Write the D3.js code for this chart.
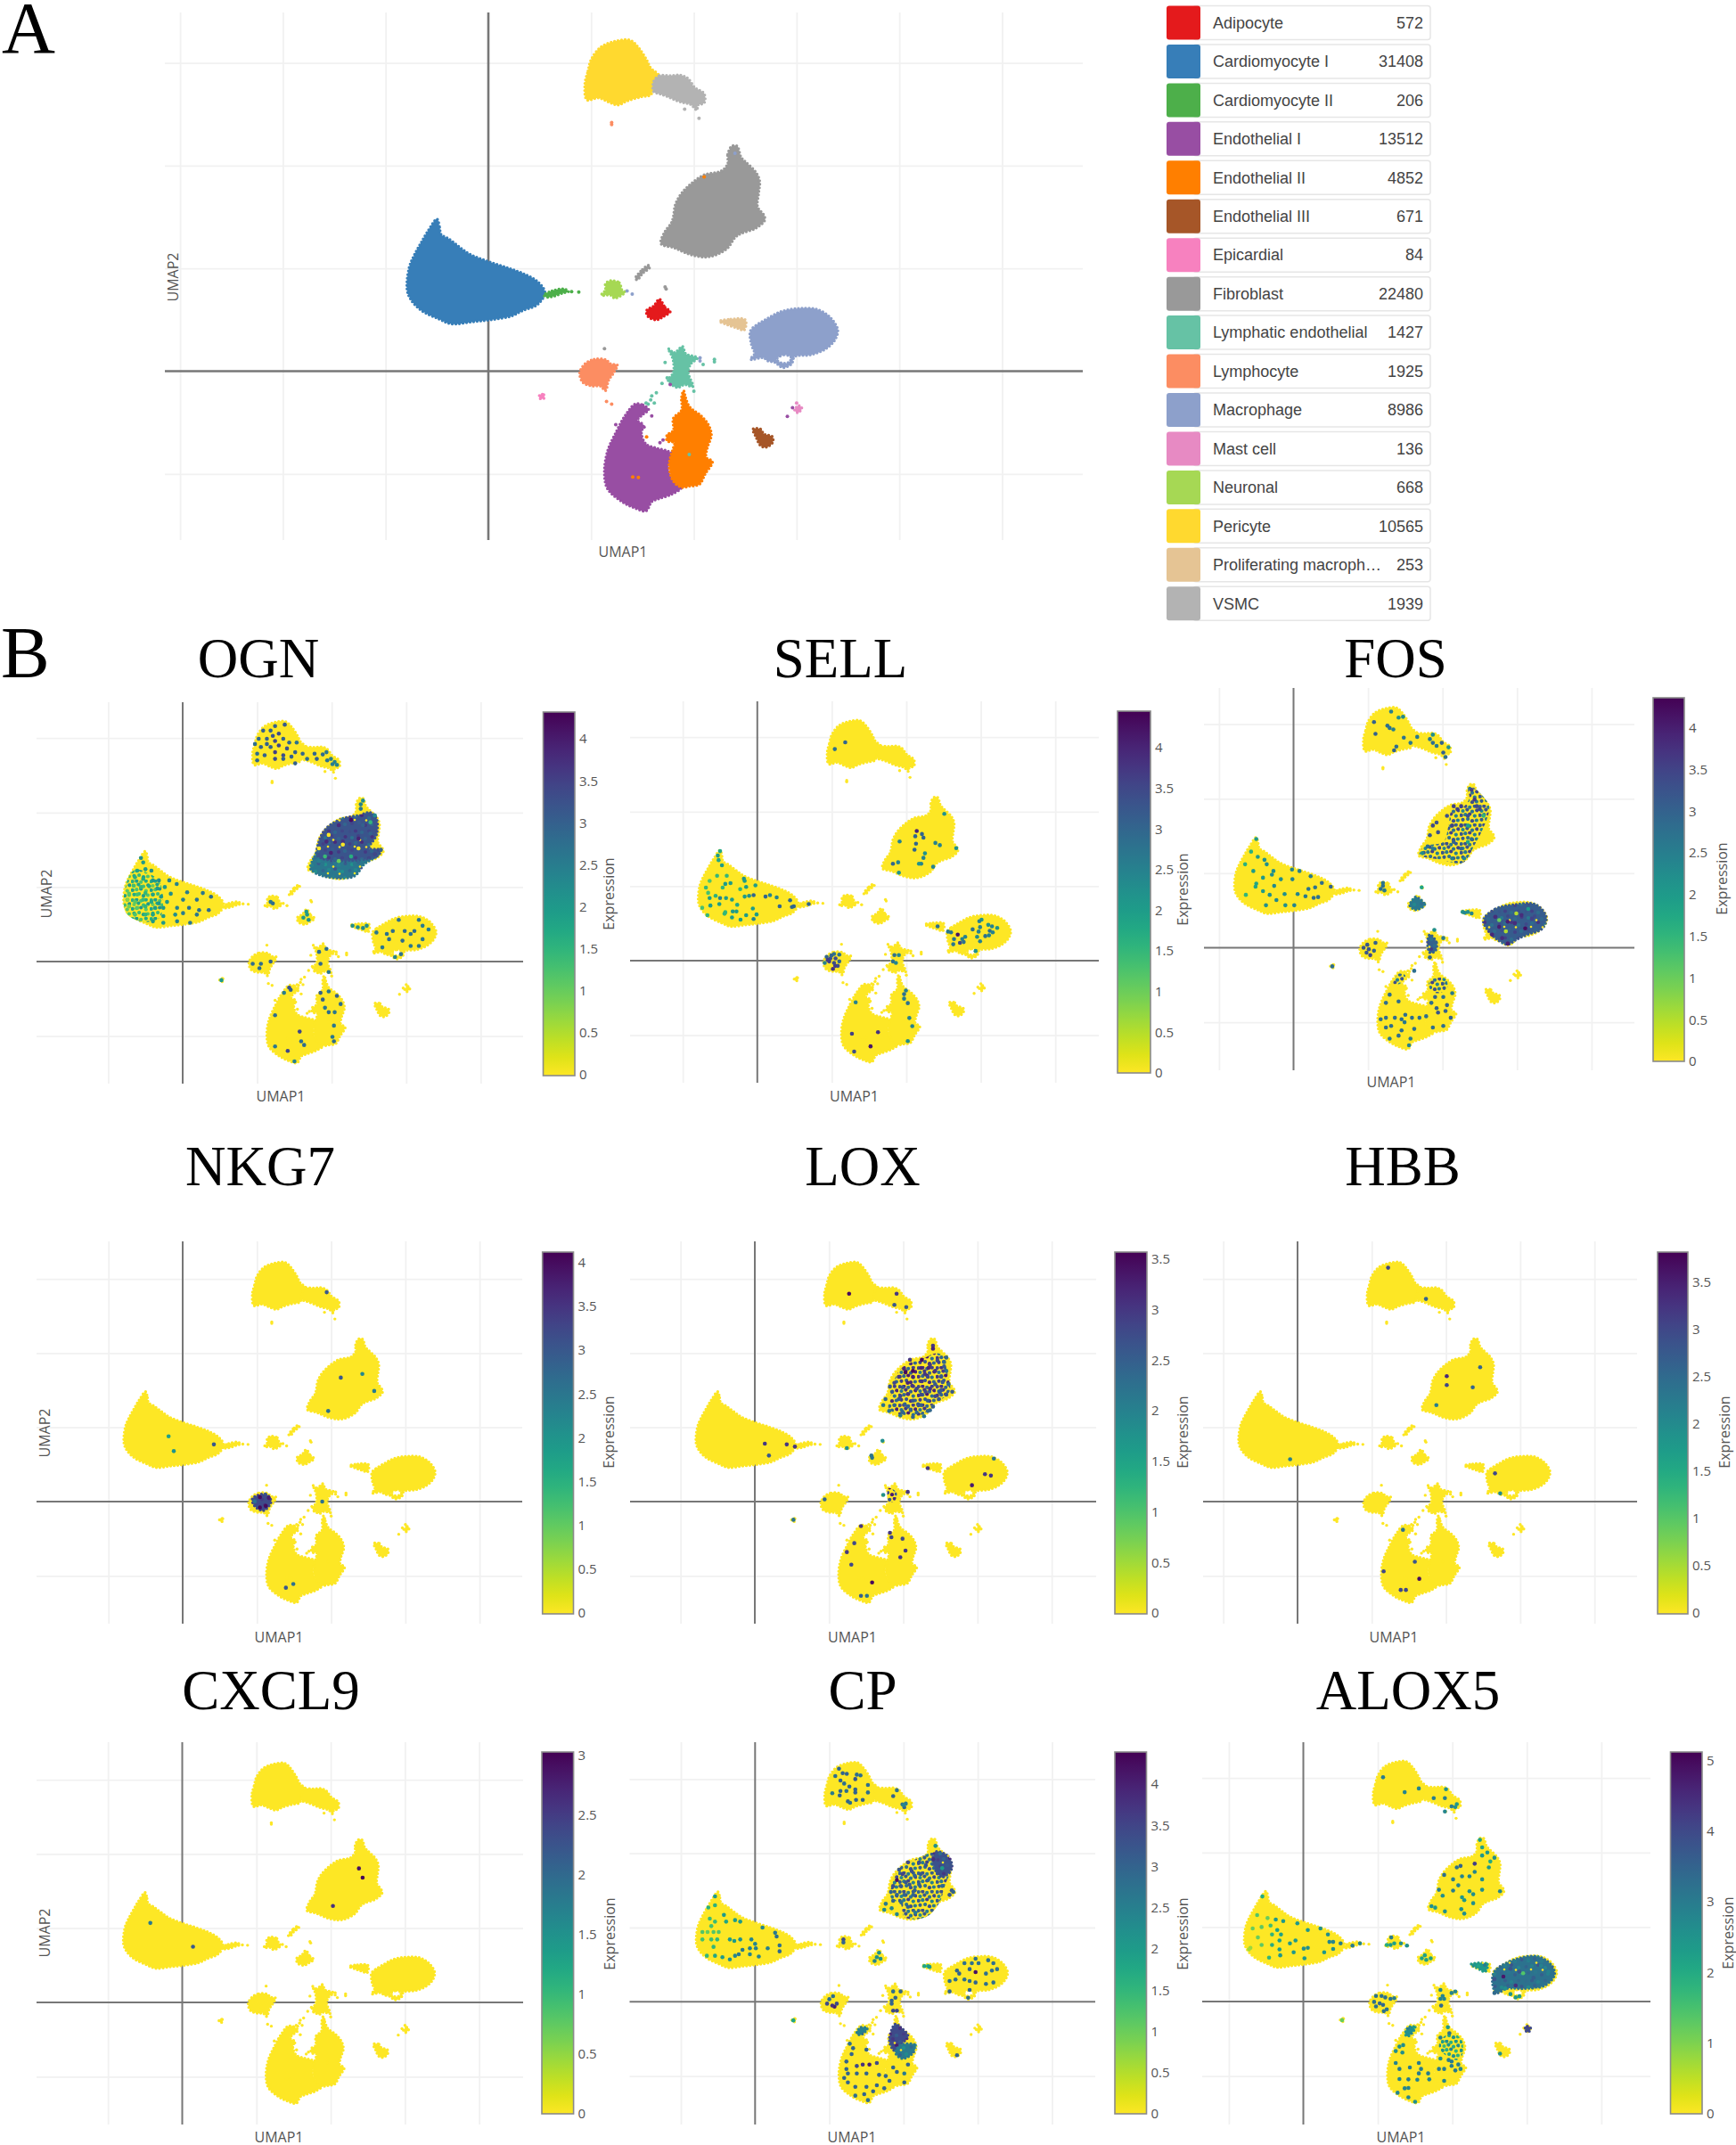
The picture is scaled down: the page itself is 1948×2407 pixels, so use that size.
<!DOCTYPE html>
<html>
<head>
<meta charset="utf-8">
<script src="https://cdn.jsdelivr.net/npm/d3@7"></script>
<style>
  body { margin: 0; background: #fff; }
  svg { display: block; }
  .serif { font-family: "Liberation Serif", serif; fill: #000; }
  .lab { font-family: "Open Sans", sans-serif; fill: #555; font-size: 16px; }
  .leg { font-family: "Liberation Sans", sans-serif; fill: #444; font-size: 18px; }
</style>
</head>
<body>
<div id="chart"></div>
<script>
// legend
const clusterNames = ["Adipocyte", "Cardiomyocyte I", "Cardiomyocyte II", "Endothelial I", "Endothelial II", "Endothelial III", "Epicardial", "Fibroblast", "Lymphatic endothelial", "Lymphocyte", "Macrophage", "Mast cell", "Neuronal", "Pericyte", "Proliferating macroph\u2026", "VSMC"];
const clusterCounts = [572, 31408, 206, 13512, 4852, 671, 84, 22480, 1427, 1925, 8986, 136, 668, 10565, 253, 1939];
const clusterColors = ["#e41a1c", "#377eb8", "#4daf4a", "#984ea3", "#ff7f00", "#a65628", "#f781bf", "#999999", "#66c2a5", "#fc8d62", "#8da0cb", "#e78ac3", "#a6d854", "#ffd92f", "#e5c494", "#b3b3b3"];

// cluster outlines, UMAP units
const adipocyteRing = [[16.65,7],[17.2,6.2],[17.7,5.8],[17,5.3],[16.4,5],[15.55,5.3],[15.4,5.9],[16.1,6.35]];
const cardioOneRing = [[-5,14.8],[-4.75,14],[-4.6,13.3],[-3.9,12.9],[-2.9,12.15],[-1.85,11.4],[-0.1,10.7],[1.9,10.05],[3.6,9.4],[4.8,8.7],[5.5,7.65],[4.8,6.5],[3.35,5.9],[2.2,5.35],[0.2,5],[-1.6,4.8],[-3.6,4.6],[-4.75,5.05],[-6.5,5.9],[-7.5,6.9],[-7.9,7.9],[-7.7,10.1],[-7.2,11.3],[-6.6,12.4],[-5.9,13.6]];
const cardioTwoRing = [[5.4,7.4],[6.2,7.8],[7.4,8],[7.8,7.75],[7.25,7.6],[6.4,7.3],[5.7,7.2]];
const endoOneRing = [[14.3,-3.2],[15.05,-3.3],[15.6,-3.75],[15.05,-4.2],[14.5,-4.8],[15.05,-5.2],[14.9,-6.1],[15.35,-7.1],[16.4,-7.5],[17.5,-7.8],[18,-8.1],[17.5,-9.25],[18,-10.6],[18.8,-11.3],[17.8,-12],[16.65,-12.4],[15.9,-12.7],[15.35,-13.6],[14.2,-13.3],[13,-12.7],[11.6,-11.45],[11.3,-9.85],[11.6,-7.8],[12.5,-5.8],[13.3,-4.35]];
const endoTwoRing = [[19,-1.9],[19.2,-2.6],[19.6,-3.5],[20.7,-4.35],[21.4,-5.2],[21.7,-6.2],[21.3,-7.5],[21.2,-8.4],[21.8,-8.8],[21.1,-10],[20.55,-11],[19.55,-11.2],[18.8,-11.3],[18,-10.7],[17.6,-9.25],[17.8,-8.1],[18,-7.5],[18.1,-6.95],[17.4,-6.8],[17.4,-6.2],[18,-5.8],[18,-4.6],[18.8,-3.8],[18.8,-2.6]];
const endoThreeRing = [[25.75,-5.65],[26.5,-5.65],[26.8,-6.1],[27.65,-6.4],[27.65,-6.95],[27.05,-7.4],[26.5,-7.25],[26.05,-6.4]];
const epicardialRing = [[5,-2.3],[5.4,-2.3],[5.4,-2.65],[5,-2.65]];
const fibroblastRing = [[23.3,20.2],[23.3,21.1],[23.7,21.9],[24.2,21.9],[24.6,20.8],[25,20.4],[26,19.4],[26.4,18.5],[26.3,17.3],[26.2,16],[26.8,15.2],[26.9,14.7],[26,13.9],[24.6,13.4],[24,13],[23.3,12],[22.1,11.3],[21,11.1],[19.5,11.4],[18.1,12],[16.8,12.4],[17.2,13.6],[17.8,14.4],[18,15],[18.2,16.2],[18.8,17.3],[19.8,18.3],[21,19.1],[22.7,19.5]];
const fibroStreakRing = [[14.3,9],[15,9.9],[15.6,10.3],[15.7,10.1],[15,9.5],[14.5,8.9]];
const lymphaticRing = [[17.5,2.2],[18.1,1.8],[18.9,2.4],[19.2,1.7],[20.35,1.3],[19.7,0.7],[19.45,-0.15],[19.9,-1.5],[19.1,-1.3],[18.4,-1.6],[17.5,-0.9],[18,-0.15],[18,1],[17.8,1.6]];
const lymphocyteRing = [[9.4,0.7],[10.3,1.15],[11.45,1.1],[11.9,0.7],[12.55,0.6],[12.2,-0.15],[11.7,-0.9],[11.4,-1.9],[10.9,-1.45],[10.15,-1.45],[9.2,-1.1],[8.9,-0.15]];
const macrophageRing = [[25.5,3.9],[26.05,4.45],[27.05,5.05],[28.5,5.8],[30.25,6.1],[32,6],[33.3,5.2],[34,4],[33.7,3],[32.8,2.15],[31.4,1.6],[29.8,1.4],[29.5,0.7],[28.65,0.35],[27.9,0.85],[27.2,1],[26.8,1.3],[25.5,1.15],[25.9,1.7],[25.6,2.6]];
const macrophageHole = [[28.05,1.15],[28.8,1.6],[29.5,1.3],[29.2,0.85],[28.5,0.8]];
const mastRing = [[29.8,-3.75],[30.25,-3.35],[30.5,-3.6],[30.1,-4.05]];
const neuronalRing = [[11.9,8.8],[12.75,8.6],[13,7.9],[13.3,7.7],[12.3,7.1],[11.9,7.4],[11,7.4],[11.4,7.9],[11.4,8.5]];
const pericyteRing = [[9.4,28],[9.7,29.2],[10,30.3],[10.9,31.5],[12.3,32.1],[13.8,32.2],[14.6,31.5],[15.4,30.3],[15.8,29.5],[16.6,28.75],[16.1,27.9],[15.8,26.9],[14.9,26.7],[13.5,26.3],[12.6,25.9],[11.7,26.2],[10.7,26.6],[9.6,26.4]];
const prolifRing = [[22.5,4.85],[23.6,5.05],[25,5],[24.9,4],[24.2,4.2],[23.3,4.5]];
const vsmcRing = [[16.1,28.2],[16.65,28.75],[17.66,28.75],[18.7,28.8],[19.4,28.5],[20.1,27.6],[21,27],[21,26.1],[20.4,25.9],[20.3,25.4],[19.7,25.95],[19.1,26.1],[18.4,26.3],[17.5,26.7],[16.65,27],[16.1,27.2]];

// [cluster index, outer ring, optional hole], in drawing order
const clusterShapes = [
  [1, cardioOneRing], [2, cardioTwoRing], [13, pericyteRing], [15, vsmcRing], [7, fibroblastRing], [7, fibroStreakRing],
  [12, neuronalRing], [0, adipocyteRing], [14, prolifRing], [10, macrophageRing, macrophageHole], [9, lymphocyteRing],
  [8, lymphaticRing], [3, endoOneRing], [4, endoTwoRing], [5, endoThreeRing], [6, epicardialRing], [11, mastRing]
];

// single cells away from the big clusters: [u, v, cluster index]
const strayCells = [[19.1,25.5,15],[20.5,24.6,15],[12,24.2,9],[12,24,9],[8.1,7.75,2],[8.8,7.7,2],[13.5,7.8,10],[14,7.5,10],[17.2,8.2,7],[17.3,8,7],[17.2,0.85,8],[16.9,-1.2,8],[17.4,-0.65,8],[20,-1.95,8],[20.9,0.65,8],[22,1.15,8],[22,0.9,8],[16.35,-2.1,8],[15.9,-2.4,8],[15.55,-3.2,8],[15.35,-3.1,8],[16.15,-3.1,8],[15.8,-2.8,8],[17.7,-1.3,3],[20.6,1.3,10],[20.6,1,10],[11.5,-2.95,9],[12,-3.2,9],[11.3,2.2,7],[12.4,-5.2,3],[15.9,-4.35,3],[15.15,-5.45,3],[16.7,-6.95,3],[17,-6.7,3],[15.4,-6.4,4],[14.05,-10.3,4],[14.6,-10.35,4],[19.55,-8.1,8],[29.6,-3.55,3],[29.1,-4.4,3],[30,-3.1,11],[21,18.9,4],[24,21.2,10]];

// expressing cells: [u, v, expression]
const ognCells = [[10.8,31,3],[12.4,31.6,3],[13.7,31.8,3.1],[12.9,30.6,3.3],[11.8,31,3],[10.2,29.9,2.9],[11.3,29.9,3],[12.4,29.6,3.4],[13.5,29.9,3],[14.3,29.4,2.9],[15.3,29.4,2.7],[10.5,28.8,3],[11.8,28.8,3],[12.9,29,3.4],[14,28.6,3.2],[15.1,28.1,3],[10,27.9,2.8],[11,27.7,3],[12.4,28.1,3.5],[13.5,27.7,3.3],[14.6,27.5,3],[10,27,2.9],[12.4,27.2,3.3],[13.5,27.2,3],[15.1,26.6,3],[16.1,27.9,2.9],[16.7,27.2,2.8],[11.3,29.2,3],[9.7,29.2,2.8],[12.1,30.3,3.2],[17.7,27.9,2.9],[18.8,27.8,2.8],[18,27.2,3],[19.3,28.1,2.6],[19.9,27.2,2.5],[20.4,26.8,2.4],[20.7,26.4,2.4],[20.1,26.5,2.5],[19.4,27,2.7],
[20.95,18.3,3.8],[22.6,19,4.2],[19.9,14.6,3.9],[21.5,16.1,3.7],[23.6,16.5,3.9],[25.2,17.2,3],[19.3,16.1,3.8],[22.3,15.2,3.3],[24.2,18.3,3],[23.9,20.5,2.6],[23.9,21.1,2.4],[24.2,21.6,2.2],[18.8,13.1,2.6],[20.95,12.2,2.4],[23.1,13.1,2.6],[18.3,13.5,2.5],[25.8,19.6,2.3],[25.8,14.4,3.4],[26.6,15,3],[19.9,11.7,2.6],[21.5,15.7,0],[19.6,17,0],[23.6,15.2,0],[20.95,13.5,1],[22.6,14.1,1.6],[25.2,18.7,1.5],[18.3,15.2,0],[19.1,14.1,1.4],
[-5.6,13.9,2.2],[-5.3,13.3,2],[-6.1,12.2,1.8],[-5,12.4,2],[-4.2,12.2,2.2],[-6.4,11.3,1.6],[-5.3,11.1,1.7],[-4,10.9,2],[-3.2,10.9,2.2],[-1.8,10.9,2.4],[-6.6,10.2,1.3],[-5.6,10,1.5],[-4.5,10.1,1.7],[-3.4,9.8,2],[-2.4,10,2],[-0.8,10.4,2.4],[-7.2,9.1,1.1],[-6.1,9,1.3],[-5,9.2,1.5],[-4,9,1.8],[-2.9,8.7,2],[-1.6,9.1,2.2],[0.6,9.3,2.5],[2.7,9.2,2.6],[3.8,8.7,2.8],[-7.4,8.3,0.8],[-6.4,8,1.1],[-5.3,8.3,1.4],[-4.2,8,1.7],[-3.2,7.8,2],[-2.1,8,2],[0.05,8.3,2.5],[1.9,8.3,2.7],[-7.2,7.4,0.9],[-6.1,7.2,1.1],[-5,7.4,1.5],[-3.7,7.2,1.9],[-2.6,7.2,2],[-0.75,7.2,2.4],[0.85,7.2,2.7],[2.2,6.9,2.7],[3.5,6.9,2.8],[-6.4,6.3,1.2],[-5,6.3,1.5],[-4,6.3,1.8],[-2.6,6.1,2],[-1,6.3,2.2],[0.05,6.5,2.5],[1.9,6.3,2.6],[-4,5.4,2],[-2.6,5.2,2],[-0.75,5.4,2.4],[1,5.2,2.6],
[11.8,8,2.6],[12.1,7.8,2.8],[16.7,6.3,2],[16.2,5.9,2],[16.9,5.6,2.1],[16.6,6.7,2],[22.8,4.8,2.2],[23.5,4.6,2.2],[24.2,4.5,2.3],[24.7,4.8,2.2],
[31.7,5.6,2.6],[32.2,4.8,2.5],[33,4.3,2.5],[31.1,4.1,2.8],[30.6,3.7,2.7],[29,5.6,2.7],[29.8,4.1,2.8],[27.4,3.7,2.7],[28.2,4.1,2.8],[26,3.9,2.6],[26.8,1.9,2.6],[29.5,2.8,2.8],[30.6,2.1,2.6],[31.7,2.1,2.6],[28.5,0.6,2.4],[29.3,1,2.7],[32.2,3,2.6],[27.7,3,2.8],
[9.4,-0.3,2.8],[10.5,-0.3,2.8],[11.8,0,3],[10.3,-0.9,2.8],[18.3,1.3,2.8],[19.3,1.7,2.8],[18.5,-0.3,2.9],[19.6,-1.4,2.6],[5.2,-2.5,2],
[14.5,-3.8,3],[14.3,-3.5,3.2],[13.6,-4.2,2.5],[12.4,-7.2,2.8],[15.7,-9.4,3.4],[15.9,-10.7,2.8],[16.3,-11.2,2.8],[14.1,-12,3.4],[12.4,-11.4,2.6],[15,-13.4,2.4],[18.5,-4.2,3],[18.8,-5.1,3],[19.6,-4,2.6],[20.7,-4.6,3],[21.2,-5.7,2.8],[20.4,-6.8,2.6],[19.1,-6.2,2.6],[19.6,-6.8,2.8],[20.3,-8.6,2.6],[20.1,-10.1,2.6],[20.3,-10.7,2.8]];
// patches are regions too dense to read cell by cell: [typical expression, ring, open weave]
const ognPatches = [
  [1.5, [[-7.6,6.5],[-7.7,10],[-6.5,12.3],[-4.5,11.8],[-3,10.5],[-3,6],[-5,5.3]], true],
  [2.6, [[17.2,12.4],[17.7,14.1],[18.3,14.9],[26.2,14.4],[26,14.1],[24.4,13.1],[23.1,11.5],[21.5,11.2],[18.8,11.5]]],
  [3.2, [[19.3,17.9],[21.5,19.2],[23.6,19.6],[25.2,20],[26,19.2],[26,17],[25,15.2],[26.6,15],[26,14.1],[18.2,14.1],[18.3,16.1]]]
];

const sellCells = [[11.8,29.3,3],[10.4,28.4,2.8],[25.1,19.7,2.2],[21.4,17.4,4],[22.1,17,3],[22.3,16.5,3],[21.2,16.7,3],[21.3,15.7,3],[19.1,16,2.5],[23.9,15.8,2.5],[24.5,15.5,2.5],[26.7,15.1,2.2],[21.1,14.9,3],[22.5,14.4,2.2],[22.3,13.8,2.5],[22,13,2.5],[21.7,13,2.2],[18.2,13,3],[18.9,13.2,2.5],[23.6,12.6,2.5],[19,11.8,2.2],
[-5,14.7,1.8],[-5.3,14.1,2],[-5.2,13.5,1.8],[-4.75,12.8,2],[-5.4,11.4,1.5],[-4.1,11.4,1.5],[-1.8,11,2.2],[-1.7,10.7,2],[-6.4,10.7,1.2],[-3.6,10.4,2],[-4.3,10.3,2],[-4.65,9.8,1.5],[-0.25,10.1,2],[-1.5,9.9,2],[-6.9,9.8,1.5],[-2.3,9.6,1.5],[-6.6,9.1,1.3],[-5.6,8.7,1.6],[-6.4,8.4,2],[-5,8.4,2.5],[-4.2,8.4,2],[-3.4,8.2,2],[-1.7,8.6,2],[-1.1,8.7,2.2],[-0.5,8.8,3],[1.1,8.6,3],[1.7,8.8,2.5],[2.6,8.5,2.5],[4.4,8.1,3],[-6.3,7.4,2],[-5.1,7.6,2],[-2.7,7.5,1.8],[-0.6,7,2],[3,7.3,3],[4.9,7.3,3],[4.65,7.2,3],[6.9,7.6,3],[-7.4,7.1,1.3],[-4.4,6.3,1.5],[-4.3,6.5,1.5],[-3.3,6.6,2],[-2.8,6.6,2],[-1.5,6.1,2],[-0.1,6.2,2],[-0.5,5.6,2.5],[-2.25,5.5,2],[-3.4,5.8,2],[-6.7,6.1,1.5],
[24.2,4.6,2.8],[31,4.8,2.2],[30.1,5.5,2.2],[29.8,5.3,2.5],[32.2,4.4,2.2],[31.5,4.6,2.5],[29.9,4.5,2.5],[29.7,3.9,2.5],[28.9,4.2,2.8],[31.2,4,2.8],[31.6,3.8,2.5],[30.6,3.3,2.8],[31.1,3.4,2.5],[29.5,3.2,2.3],[29.9,2.6,2.5],[29.3,1.3,2.2],[25.6,3.9,2.7],[26,3.8,2.7],[26.4,2.9,2.7],[26.9,3.5,4.2],[27.9,3.2,2.5],[27.5,2.9,2.5],[27.2,2.4,3.5],[27.7,2.5,2.8],[26.3,2.2,2.7],
[9.3,0.5,3],[9.8,0.3,3.4],[10.3,0.9,2.8],[11,0.8,2.8],[9.65,-0.1,3.6],[10.3,-0.3,3.4],[11,-0.1,3],[10.8,-0.7,3.4],[10.15,-1.1,3.8],[9.05,-0.3,2.5],[10.5,0.3,3.4],[9.95,0.7,3],[9.45,0.1,3.6],[10.45,-0.7,3.6],
[18.4,0.75,2.8],[19,0.75,2.4],[18.2,-0.1,2.8],[18.6,-0.3,2.4],[19.95,-4,2.6],[19.7,-4.5,2.8],[19.7,-5.1,2.6],[20.2,-5.7,2.8],[20.4,-7.7,2.5],[20.8,-8.8,2.5],[20.2,-10.8,2.3],[13.2,-5.6,2.5],[12.7,-9.8,3.6],[16.2,-9.6,3.8],[15.2,-11.5,4.2],[13,-12.2,3.4]];
const sellPatches = [];

const fosCells = [[13.1,31.7,2.5],[14.1,30.9,2.2],[14.7,31,2.3],[10.8,30.3,3],[12.6,29.8,2.8],[13.4,29.3,2.5],[12.9,29.5,2.7],[11,28.7,3],[14.8,28.2,2.7],[15.7,27.5,2.6],[13.5,26.5,3],[13.8,27,2.8],[16.6,28.3,2.6],[18.3,28,2.6],[18.7,28.6,2.2],[18.7,27.5,2.8],[19.9,27.5,3],[19.2,27.1,2.6],[20.1,26.2,3],[20.8,26.9,2.2],[20.4,25.6,2.8],
[21.5,19,3.5],[22.5,19,3.5],[22,18.6,3.5],[20.6,17.7,3.3],[19.2,16.8,3.3],[18.7,16.4,3.4],[18.3,15.1,3.2],[19.4,15.5,3.3],[18,13.6,2.8],[17.3,12.7,2.3],[18.7,13.3,2.6],[24.6,19,3.4],[25,18.6,3.4],[23.9,21.2,3.5],[24.3,19.9,3.6],[23.4,17.7,3.3],[22.5,16.4,3.4],[21.3,16.4,3.5],[21.5,14.2,3],[22.5,13.3,2.9],[21.3,12,2.5],[22.9,12,2.4],[23.9,14.6,2.8],[23.4,16.4,1.8],[25.5,17.7,1.5],[23.4,14.2,1.8],
[-5,14.6,2],[-5.7,12.9,1.6],[-6.5,11.2,1.6],[-4.8,12.2,2],[-3.9,11.8,2.2],[-3.6,11.2,2.2],[-5.4,10.3,2],[-2.7,10.3,2.2],[-2.9,9.8,2.2],[-4.1,9.4,2],[-5,8.6,1.8],[-5.1,8.2,1.8],[-4.1,7.6,2],[-6.4,7.1,1.5],[-3.2,7.1,2.2],[-2.3,6.4,2.3],[-1.2,7.2,2.2],[-1.1,5.7,2.2],[0.1,5.7,2.4],[-3.7,5.7,2.2],[-2.6,8.3,2.3],[-0.2,10.5,2.4],[0.8,10.3,2.5],[-0.15,9.2,2.4],[0.55,7.2,2.4],[1.6,6.9,2.6],[2,7.9,2.7],[2.9,8.1,2.7],[3.8,8.7,2.8],[5,8.2,3],[2.3,9.6,2.6],[3.3,6.8,2.7],[2.7,6.7,2.8],[-1.7,9.2,2.2],
[12,8.3,2.8],[11.7,7.9,2.8],[12.2,7.7,2.6],[12,8.7,2.7],[17.2,8.1,1.8],[22.7,4.8,2.2],[23.4,4.8,2.2],[23.9,4.6,2.4],[23,4.7,2.3],
[31.1,2.6,4.2],[27.6,2.8,4],[28.75,3.5,4],[29.7,3.3,3.8],[27.1,4.15,3.8],[26.65,1.75,3.9],[28.75,0.55,4],[28,1.3,3.8],[30.6,4.4,3.8],[32,3.9,3.5],[27.6,3.7,1],[29.9,4.6,0.5],[28.5,2.2,0.5],[31.5,5.2,2],
[9.9,0.4,3.2],[9.4,0,3.2],[10.1,-0.2,3.2],[11,0.65,3],[10.3,-1,3.4],[9.8,-0.65,3.2],[10.8,-0.4,3],[18.9,2.4,2.2],[20.1,1.3,2.6],[18.3,-1.3,3],[5.2,-2.5,2.8],
[16.2,-3.1,2.8],[12.9,-6.3,2.8],[12.4,-7.4,2.8],[14.1,-7.2,2.8],[11.7,-9.6,2.8],[12.4,-9.4,2.8],[13.6,-9.4,2.8],[14.5,-9.6,2.8],[15,-9,2.8],[15.9,-9.4,2.8],[16.9,-9.4,2.8],[17.8,-9.2,2.8],[12.4,-10.7,2.8],[13.1,-10.5,2.8],[14.5,-11.1,2.8],[16.2,-10.9,2.8],[18.7,-10.7,2.8],[12.9,-12.2,2.6],[14.1,-11.8,2.8],[15.7,-12.2,2.6],[15.5,-13.1,2.4],[14.9,-10,2.6],
[19,-6.6,3],[20.1,-6.6,2.8],[21.3,-6.1,2.6],[19.2,-8.1,3],[20.4,-8.5,3],[21.1,-9.4,3],[19.4,-8.7,3.2],[20.6,-7.7,3],[20.1,-10.5,2.8],[18.5,-7.4,2.8]];
const fosPatches = [
  [2.9, [[23.4,21.6],[24.3,21.4],[26.2,19.2],[26.2,18.1],[25.3,15.7],[24.3,13.8],[22.7,11.4],[19.9,11.8],[16.9,12.5],[17.6,13.6],[20.1,14.2],[20.8,16.4],[21.3,18.6],[22.9,19],[23.6,20.1]], true],
  [2.6, [[16.4,6.8],[17.6,5.8],[16.4,5.1],[15.6,5.7],[15.9,6.3]]],
  [3.1, [[25.5,3.7],[27.1,5.2],[29.9,5.8],[32.5,5.8],[33.9,4.15],[33.4,2.6],[31.3,1.75],[29.9,1.1],[28.75,0.45],[27.35,1.1],[26.2,2.2]]],
  [3, [[18.3,1.75],[19.2,0.65],[19,-0.45],[18.3,-0.65],[18,0.85]]],
  [2.7, [[14.1,-3.5],[15,-3.7],[14.3,-4.8],[13.4,-4.8]], true],
  [2.9, [[18.3,-4.4],[20.4,-4.15],[20.6,-5.5],[19.2,-6.1],[18.3,-5.5]], true]
];

const nkgCells = [[19.4,28.2,3],[24.2,17.2,2.2],[21.3,16.7,3],[25.8,14.9,2.4],[19.6,12.2,2.6],[-1.9,8.8,1.8],[4.2,7.7,3],[-1.2,6.8,2],[10.4,0.6,4],[11.2,-0.6,4],[10.4,-0.8,4],[9.7,0,2.6],[11.6,0.5,3.8],[18.8,0,2.6],[14.9,-11.1,2.6],[13.9,-11.6,3]];
const nkgPatches = [[3.2, [[9.4,0.4],[11.2,1],[11.9,0],[10.9,-1.2],[9.7,-0.6]]]];

const loxCells = [[24,21,3],[24,20.6,3.2],[25.8,19.4,2.4],[25.5,18.8,2.4],[22.5,19.1,3.5],[20.9,19.1,3],[23.6,18.4,3],[25.5,18.2,2.6],[20.3,17.4,3.5],[21.3,17.6,3.5],[22.4,18,3.2],[24.3,17.6,3],[25.8,17.6,2.3],[19.4,16.8,3],[21.3,16.8,3.2],[23.3,16.8,2.8],[25.1,16.8,2.6],[18.8,16,2.8],[20.6,16,3.2],[22.5,16.2,3],[24.3,15.8,2.6],[26.1,15.8,2.4],[19.9,15.4,2.6],[21.8,15.2,2.8],[23.6,15.2,3],[25.1,15,2.6],[26.6,14.8,2.6],[18.5,14.8,2.6],[20.6,14.5,3],[22.4,14.4,2.8],[24.3,14.2,2.8],[25.8,14.4,2.6],[17.6,13.8,2.4],[19.4,13.8,2.6],[21.3,13.6,2.6],[23.3,13.6,2.5],[24.8,13.8,2.6],[17.3,13,2.2],[18.8,13,2.4],[20.6,12.8,2.5],[22.4,13,2.5],[24,12.8,2.5],[18.1,12.2,2.2],[19.9,12.1,2.4],[21.8,12,2.4],[23.3,12.2,2.4],[21.3,11.4,2.4],[22.8,11.5,2.2],[19.6,11.6,2.2],
[20.1,17.9,3.2],[22.9,17.2,3],[21.2,15.6,3],[23,14.8,2.8],[24.9,14.7,2.6],[19.6,14.2,2.8],[22,13.1,2.6],[25.3,16.1,2.6],[23.4,18,3.2],[18.2,15.5,2.6],[20.2,13.1,2.5],[23.6,12.3,2.4],[21,12.4,2.5],[24.6,19,2.8],
[12.7,28,3.5],[19.1,28,3],[18.8,26.5,2.6],[20.4,26.2,2.6],[1.35,7.8,3],[4.3,7.7,3],[5.4,7.4,3],[1.9,6.2,2.6],[17.2,8.2,1.8],[12.4,7.2,1.8],[15.8,5.9,2.2],[15.7,6.2,2.2],[32.2,5.8,2.2],[23.3,4.5,3],[31,3.7,3],[31.8,3.5,3],[29.25,2.2,3.3],[9.4,0.3,2.4],[17.3,0.9,1.8],[20.6,1.3,3],[5.2,-2.45,2.2],[14.3,-3.3,3],[18.2,-4.2,3],[18.4,-4.8,2.8],[19.9,-5,2.8],[13.4,-5.6,2.8],[20.3,-6.6,3],[12.4,-6.8,3],[19.6,-7.5,3],[13,-8.5,2.8],[15.8,-10.9,3.5],[14.3,-12.7,2.5],[15.1,-12.7,2.2]];
const loxPatches = [
  [2.7, [[18,12.6],[19,11.9],[21,11.6],[22.6,11.7],[23.8,13],[25.6,14.1],[26.3,15],[25.8,18],[25.6,19.5],[24.5,20],[22.5,19.2],[20.7,18.6],[19.6,17.8],[18.8,16.4],[18.4,14.6]], true],
  [2.9, [[18,1.8],[19.1,1.2],[18.8,0],[18,0]], true]
];

const hbbCells = [[12.2,31.5,3],[17.3,27.3,2.6],[24.6,18.1,2.6],[20.1,16.9,3.4],[20.1,15.7,3],[23.6,15.4,2.6],[18.7,13,2.2],[-1,5.7,2.2],[26.6,3.8,3],[27.3,1.1,2],[14.2,-3.8,2.4],[15.8,-8.1,2.8],[11.6,-9.4,3],[16.4,-10.4,3.7],[13.9,-11.9,3],[14.6,-11.9,3]];
const hbbPatches = [];

const cxclCells = [[23.8,18.05,2.9],[24.3,16.8,3],[20.3,13,2.6],[-4.3,10.7,1.8],[1.45,7.5,2.2]];
const cxclPatches = [];

const cpCells = [[11.3,31.4,3],[10.8,30.4,2.8],[11.8,30.8,3],[12.35,30.7,3],[13.7,30.6,2.8],[14.2,30.5,2.8],[13.5,30,3.2],[11.5,29.8,3],[12,29.4,2.8],[12.7,29,3],[13.5,28.6,3],[13.5,28.2,3],[15.2,29.2,2.8],[15.2,28.2,2.8],[10.4,28.1,2.6],[11.5,28.4,3],[12.3,28.4,2.8],[11.4,27.8,3],[12.5,27,3],[12.8,26.8,2.8],[13.6,27.2,3],[14.5,27.2,3],[18.6,27.7,3],[19.1,28.5,2.8],[19.85,26.6,2.8],[20.3,26.7,2.6],[20.1,26.2,3],[20,26.5,2.4],
[19.1,16.4,4.2],[19.85,17.2,3.5],[20.6,18.8,3.4],[22.1,18.8,3.3],[23,18.4,3.2],[21.1,17.6,3.3],[22.3,17.2,3.2],[18.6,15.6,3.3],[19.6,15.6,3.2],[20.8,15.8,3.2],[22.1,15.8,3.1],[19.1,14.4,3],[18.6,13.6,3],[17.6,13.2,2.6],[17.4,12.4,2.3],[18.4,12.6,2.4],[19.1,11.8,2.4],[20.1,14.4,3],[21.3,14.4,3],[23.3,16.4,3],[26.5,15,3.2],[26.2,14.4,3.2],[26.7,14.8,3],[20.6,12.8,3],[21.6,12,2.6],[25.2,15.6,2.9],[24,19.2,3.8],[24.3,21,2.2],[19.4,17.8,3.2],[21.5,17,3],[20.3,16.1,3.2],[21.5,15,3.1],[18.3,14.8,3],[19.7,13.4,2.8],[25.2,18,2],
[-5.4,14.2,2],[-6.3,12.7,1.6],[-5.4,13,1.6],[-6.1,11.2,1.4],[-5.4,10.8,1.4],[-4.2,11.7,2],[-2.7,11,2],[-2,10.8,2],[-3.9,10.8,1.8],[-5.9,10.2,1.3],[-4.9,9.4,1.2],[-6.4,9.4,1],[-5.6,9.4,1.2],[-7.1,9.4,1.2],[-7.1,8.4,1.3],[-5.9,8.4,1.4],[-5.1,8.4,1.5],[-3.4,8.4,2],[-2.8,8.2,2],[-2,8.4,2.2],[-0.5,8.4,2.4],[0,7.8,2.4],[-5.6,7.4,1.5],[-0.7,7.2,2.5],[0.1,7.2,2.5],[1.7,7.2,2.5],[2.9,8.8,2.8],[3.3,7.6,2.8],[3.3,6.8,2.9],[1,10,2.4],[2.7,9.3,2.6],[-1.7,7,2.6],[-2.2,6.4,2.6],[-2.7,6.2,2.4],[-3.4,5.7,2.2],[-0.7,6.4,2.4],[0.5,6.1,2.4],[-6.5,6.2,1.5],[-5.4,6.2,1.8],[-4.4,6,2],
[11.9,8.4,3.4],[11.9,8,3],[16.7,6.6,2.2],[16.9,5.8,2.2],[16.1,5.5,2.4],[16.4,6,2.2],[22.8,4.8,1.8],[23.3,4.8,1.8],[23.5,4.7,2],
[29.7,5.8,2.8],[29.2,5.2,2.8],[30.1,5.2,2.8],[31.4,5.6,2.8],[32.1,5.2,2.8],[32.6,4.4,2.8],[31.9,4.2,2.8],[31.1,3.8,2.8],[29.7,4,4.2],[28.9,4.4,3],[28.2,5.2,2.8],[27.2,4.2,3],[27.5,3.8,3],[26.2,2.8,2.8],[27,3,2.8],[28.2,3,2.8],[28.9,2.8,2.8],[29.7,2.6,3],[31.1,2.4,2.8],[32.1,2.6,2.8],[28.7,0.55,2.8],[26.2,1.4,3],[28.9,1.6,3],
[10.5,0.75,2.8],[10,0.35,2.8],[9.7,-0.25,3.4],[10.7,-0.65,4],[10.4,-0.5,3.8],[11,-0.25,3.4],[18.6,1.4,2.8],[18.9,0.55,3],[18.4,0.15,3],[18.4,-0.25,3],[19.6,1.4,3],[18.6,-1.2,3.4],[19.1,-1.2,3.4],[5.15,-2.5,1.8],[27.2,-7.2,3],
[12.75,-5.65,2.8],[13.2,-6.25,3],[13,-7.05,3],[15,-6.45,3],[12.3,-8.05,3],[13.7,-8.65,3.4],[14.5,-8.45,3.8],[15.4,-8.45,4],[16.4,-8.25,3.4],[12.3,-9.05,3],[12.5,-9.65,3],[12,-10.25,3],[12.5,-10.85,3],[13.7,-9.65,3],[15,-9.65,3],[16.7,-9.85,3],[17.6,-10,3],[18.6,-8.85,3],[19.1,-9.45,3],[18.1,-10.65,3],[20.1,-9.65,2.6],[20.6,-8.45,3],[20.1,-10.85,3],[13.5,-11.45,3],[15,-11.45,3],[16.4,-11.25,3],[17.4,-11.65,3],[13.5,-12.65,2.8],[14.7,-12.45,3],[15.2,-13.25,2.8],[15.9,-12.05,3]];
const cpPatches = [
  [2.9, [[19.6,18.2],[21,18.9],[24.3,20.2],[26,19.6],[26.5,18],[25.7,16],[24.75,13.2],[23,11.4],[20.1,11.4],[19.6,13.2],[18.3,14],[18.5,16]], true],
  [3.3, [[24.3,20.2],[26,19.6],[26.5,18],[25.2,16.8],[24,18.4]]],
  [2.5, [[14.2,-3.45],[15.1,-3.65],[14.2,-4.45],[13.7,-4.25]]],
  [3.4, [[18.9,-3],[19.6,-3.45],[20.6,-4.65],[19.4,-6.05],[19.6,-6.85],[18.6,-6.45],[18.1,-5.05]]],
  [2.6, [[19.6,-5.85],[21.6,-5.85],[21.3,-6.85],[19.85,-7.65],[18.9,-6.85]]]
];

const aloxCells = [[10.7,30.1,3],[13.6,28.1,2.8],[15.5,28.6,2.8],[17.5,27.3,3],[19.15,28.5,2.6],[19,27.3,3],[19.9,26.2,3],[20.6,26.5,2.4],[20.4,26.1,2.6],[19,25.5,2.8],
[23.7,21.7,2.2],[24,20.7,2.2],[24,19.6,2.4],[24.7,20,2.4],[25.1,18.8,2],[24.9,18,2.4],[25.65,19.3,2.6],[23,18.5,4.2],[21.1,18.2,3.5],[20.6,18,3.2],[18.9,17,3.3],[20.1,16.4,3],[21.3,16.8,2.8],[22.3,16.8,2.8],[23,17.4,2.8],[24,16.4,2.6],[18.2,15,3],[20.1,14.9,3],[20.8,15.6,2.8],[22.3,14.8,2.6],[22.8,14.4,2.6],[24,15,2.6],[26.4,14.8,2.8],[17.2,12.8,2.6],[17.7,12.6,2.4],[19,12.1,2.6],[21.3,14,2.4],[21.6,13.6,2.4],[21.2,12.4,2.6],[22.8,13.2,2.6],[21.6,11.8,2.6],[18.7,14.2,2.6],
[-5.5,14.1,2],[-6.2,11.6,1.4],[-4.8,11.2,1.2],[-3.7,11,2.4],[-2.7,10.8,2.4],[-0.8,10.5,2.4],[0.6,9.6,2.4],[2.3,9.8,2.6],[3.3,9,2.6],[-6.8,9.8,1.2],[-5.6,10,1.3],[-4.4,10.2,1.6],[-3.5,9.6,2.2],[-3,9,2.2],[-4.2,9,1.8],[-6.1,8.6,1.2],[-5.6,7.6,1.3],[-7.1,7.2,0.8],[-7.3,7,0.7],[-3.2,8.2,2.2],[-4.2,7.6,2],[-1.05,8.2,2.4],[-1.8,7.8,2.4],[0.6,7.2,2.6],[0.05,7.1,2.6],[4,8,2.8],[3.5,8,2.8],[5,7.8,3],[4,7.05,2.6],[-1.3,6.6,2.4],[-3.2,7,2.3],[-4.6,5.9,1.8],[-3.1,6.2,2.4],[0.15,5.8,2.4],[2.8,6.6,2.4],[6.6,7.5,3],[7.6,7.8,2.8],
[11.8,8.6,3],[12.2,7.8,2.2],[11.7,7.6,2.4],[13.1,7.8,2.6],[13.9,7.5,2.6],[11.2,7.6,2],[16.3,6.2,2.2],[16.5,5.6,2.2],[15.9,5.8,2.2],[17.1,5.8,2.2],
[26.85,3.35,4.8],[28.5,2.15,4.4],[25.65,3,3.8],[29,4,3.8],[30.9,3.2,3.6],[27.8,4.4,3.8],[30.2,5.6,3],[32.9,4,2.9],[29.5,3.8,1.4],[31.9,4.8,2.9],[27.1,1.75,2.6],[27.8,1,2.5],[29,0.7,2.4],[28.5,0.55,2.4],[25.65,1.15,3.4],
[9.75,0.75,3.2],[10.5,0.75,3.2],[11,0.55,3.2],[11.7,0.35,3.2],[9.5,-0.05,3.2],[10.25,-0.25,3.4],[10.7,-0.45,3.4],[11.2,-1.05,3.2],[10.8,-1.3,3.2],[9.75,-0.65,3.2],[12.2,0.45,3],
[18.4,1.55,2.8],[18.7,0.75,2.8],[18.4,0.35,2.8],[18.9,0.35,2.8],[18.5,-0.55,3.4],[19.9,1.15,2.8],[20.4,1.35,2.8],[5.2,-2.5,1.2],[26.4,-7,2.6],
[12.9,-6.05,2.6],[13.4,-5.85,2.6],[12.4,-6.65,2.6],[13.3,-6.85,2.6],[12.4,-8.25,2.8],[14.3,-8.85,3],[12.9,-9.05,3],[15.5,-8.25,3],[15.8,-9.05,3],[15.5,-9.65,3],[16.75,-9.65,3],[12.9,-10.4,2.8],[14.1,-10.45,3],[15.3,-10.5,2.8],[16.9,-10.45,2.8],[18.9,-10.65,2.8],[13.6,-11.65,2.8],[12.65,-12.25,2.8],[14.1,-12.85,2.8],[15,-13.45,2.6],[14.1,-11.6,2.8],
[19.4,-3.45,2.4],[19.6,-4.25,3.2],[18.4,-4.85,3],[19.9,-8.05,3],[20.8,-8.45,3],[18.9,-9.05,3],[20.4,-9.25,3],[21.1,-9.05,2.8],[19.9,-8.65,3],[19.5,-7.85,3],[18.4,-7.65,2.6],[18.2,-9.05,3]];
const aloxPatches = [
  [2.4, [[22.5,5],[24.7,5],[24.4,4],[23.5,4.4]]],
  [3.2, [[25.65,4],[27.8,5.4],[31.4,6.05],[33.35,4.8],[33.7,3.55],[32.4,2.15],[29.75,1.75],[27.3,1.75],[25.9,1.15],[25.4,2.4]]],
  [4, [[29.9,-3.3],[30.5,-3.55],[30.2,-4.1],[29.8,-3.85]]],
  [2.6, [[14.1,-3.45],[15,-3.45],[14.1,-4.65],[13.7,-4.45]]],
  [2.2, [[18.7,-4.85],[20.1,-4.25],[21.3,-5.25],[21.3,-7.25],[20.6,-7.85],[18.9,-7.05],[18.2,-6.05]], true]
];

const halfTicks4 = [0, 0.5, 1, 1.5, 2, 2.5, 3, 3.5, 4];
const halfTicks35 = [0, 0.5, 1, 1.5, 2, 2.5, 3, 3.5];
const halfTicks3 = [0, 0.5, 1, 1.5, 2, 2.5, 3];
const unitTicks5 = [0, 1, 2, 3, 4, 5];
const gridU = [-30, -20, -10, 10, 20, 30, 40, 50];
const gridV = [-10, 10, 20, 30];

// one tile of cell-sized specks for the dense patches: dx, dy, expression offset
const speckleTile = [[2.5,3,0.1],[9,2.5,0.4],[16,4,-0.3],[24,2.5,0.2],[5,10,-0.5],[12,8,0.3],[20,11,-0.2],[27.5,9,0.5],[2.5,17,0.3],[9,16,-0.3],[16,15,0.6],[24,18,-0.4],[5,24,0.2],[13,23,-0.1],[20,26,0.4],[27,25,-0.3]];
const speckleGaps = [[14,12.5],[21,20.5],[8,20]];

const svg = d3.select("#chart").append("svg").attr("width", 1948).attr("height", 2407);
const defs = svg.append("defs");

function drawFrame(g, f) {
  const x = d3.scaleLinear().domain([(f.left - f.ox) / f.ppu, (f.right - f.ox) / f.ppu]).range([f.left, f.right]);
  const y = d3.scaleLinear().domain([(f.oy - f.bottom) / f.ppu, (f.oy - f.top) / f.ppu]).range([f.bottom, f.top]);

  const gx = g.append("g").attr("transform", "translate(0," + f.bottom + ")")
    .call(d3.axisBottom(x).tickValues(gridU.filter(d => d > x.domain()[0] && d < x.domain()[1])).tickSize(f.top - f.bottom).tickFormat(""));
  const gy = g.append("g").attr("transform", "translate(" + f.left + ",0)")
    .call(d3.axisLeft(y).tickValues(gridV).tickSize(f.left - f.right).tickFormat(""));
  [gx, gy].forEach(a => {
    a.select(".domain").remove();
    a.selectAll("text").remove();
    a.selectAll("line").attr("stroke", "#f1f1f1").attr("stroke-width", 1.8);
  });

  g.append("line").attr("x1", x(0)).attr("x2", x(0)).attr("y1", f.top).attr("y2", f.bottom)
    .attr("stroke", "#777").attr("stroke-width", f.zero);
  g.append("line").attr("x1", f.left).attr("x2", f.right).attr("y1", y(0)).attr("y2", y(0))
    .attr("stroke", "#777").attr("stroke-width", f.zero);
  return { x, y };
}

function ringPath(rings, x, y) {
  const line = d3.line().x(d => x(d[0])).y(d => y(d[1])).curve(d3.curveCatmullRomClosed.alpha(0.5));
  return rings.map(r => line(r)).join(" ");
}

// polygon plus a dotted round edge, so the border reads as separate cells
function blob(g, rings, color, x, y, noEdge) {
  const path = g.append("path").attr("d", ringPath(rings, x, y))
    .attr("fill", color).attr("fill-rule", "evenodd");
  if (!noEdge) {
    path.attr("stroke", color).attr("stroke-width", 3.4)
      .attr("stroke-linecap", "round").attr("stroke-dasharray", "0 4");
  }
}

function specklePattern(id, value, open, color) {
  // the open weave packs the same specks into a smaller tile and lets yellow show between them
  const k = open ? 0.7 : 1;
  const size = 30 * k;
  const pat = defs.append("pattern").attr("id", id).attr("patternUnits", "userSpaceOnUse")
    .attr("width", size).attr("height", size);
  pat.append("rect").attr("width", size).attr("height", size).attr("fill", open ? "#fde725" : color(value));
  speckleTile.forEach(d => {
    pat.append("circle").attr("cx", d[0] * k).attr("cy", d[1] * k).attr("r", 2.1).attr("fill", color(value + d[2]));
  });
  if (!open) {
    speckleGaps.forEach(d => {
      pat.append("circle").attr("cx", d[0]).attr("cy", d[1]).attr("r", 1.3).attr("fill", "#fde725");
    });
  }
}

// Panel A
const gA = svg.append("g");
const scaleA = drawFrame(gA, { left: 185, right: 1215, top: 14, bottom: 606, ox: 548, oy: 416.5, ppu: 11.53, zero: 2.6 });
clusterShapes.forEach(s => blob(gA, s.slice(1).filter(Boolean), clusterColors[s[0]], scaleA.x, scaleA.y));
gA.selectAll(".stray").data(strayCells).enter().append("circle").attr("class", "stray")
  .attr("cx", d => scaleA.x(d[0])).attr("cy", d => scaleA.y(d[1])).attr("r", 2)
  .attr("fill", d => clusterColors[d[2]]);
gA.append("text").attr("class", "lab").attr("x", 699).attr("y", 619).attr("dy", "0.35em").attr("text-anchor", "middle").text("UMAP1");
gA.append("text").attr("class", "lab").attr("transform", "translate(194,311) rotate(-90)").attr("dy", "0.35em").attr("text-anchor", "middle").text("UMAP2");

svg.append("text").attr("class", "serif").attr("x", 2).attr("y", 59).style("font-size", "83px").text("A");
svg.append("text").attr("class", "serif").attr("x", 1).attr("y", 760).style("font-size", "82px").text("B");

// Legend
const legend = svg.append("g").selectAll("g").data(clusterNames).enter().append("g")
  .attr("transform", (d, i) => "translate(1309," + (6.5 + i * 43.45) + ")");
legend.append("rect").attr("x", 30).attr("width", 266).attr("height", 38).attr("rx", 3)
  .attr("fill", "#fff").attr("stroke", "#e6e6e6").attr("stroke-width", 1.5);
legend.append("rect").attr("width", 38).attr("height", 38).attr("rx", 3)
  .attr("fill", (d, i) => clusterColors[i]);
legend.append("text").attr("class", "leg").attr("x", 52).attr("y", 19).attr("dy", "0.35em").text(d => d);
legend.append("text").attr("class", "leg").attr("x", 288).attr("y", 19).attr("dy", "0.35em").attr("text-anchor", "end").text((d, i) => clusterCounts[i]);

// Panels B
const grad = defs.append("linearGradient").attr("id", "viridisBar").attr("x1", 0).attr("x2", 0).attr("y1", 1).attr("y2", 0);
d3.range(0, 1.001, 0.05).forEach(t => {
  grad.append("stop").attr("offset", t).attr("stop-color", d3.interpolateViridis(1 - t));
});

const genePanels = [
  { gene: "OGN", cells: ognCells, patches: ognPatches, ox: 205, oy: 1079, ppu: 8.36, left: 41, right: 587, top: 788, bottom: 1216, bar: [609.5, 645, 799, 1207], zeroTick: 1206, max: 4.32, ticks: halfTicks4, u1: [315, 1230], u2: [52, 1003], ex: [683, 1003], title: [290, 760] },
  { gene: "SELL", cells: sellCells, patches: sellPatches, ox: 849.8, oy: 1078, ppu: 8.36, left: 707, right: 1233, top: 787, bottom: 1215, bar: [1254, 1291, 798, 1204], zeroTick: 1204, max: 4.45, ticks: halfTicks4, u1: [958.5, 1230], ex: [1327.5, 998], title: [943, 760] },
  { gene: "FOS", cells: fosCells, patches: fosPatches, ox: 1451.5, oy: 1063.5, ppu: 8.36, left: 1351, right: 1834, top: 772, bottom: 1201, bar: [1855, 1890, 783, 1191], zeroTick: 1191, max: 4.36, ticks: halfTicks4, u1: [1561, 1214.5], ex: [1932, 986], title: [1566, 760] },
  { gene: "NKG7", cells: nkgCells, patches: nkgPatches, ox: 205, oy: 1685, ppu: 8.33, left: 41, right: 586, top: 1393, bottom: 1822, bar: [608.7, 643.5, 1405, 1811], zeroTick: 1810, max: 4.12, ticks: halfTicks4, u1: [313, 1837], u2: [50, 1608], ex: [683, 1607], title: [292, 1330] },
  { gene: "LOX", cells: loxCells, patches: loxPatches, ox: 847, oy: 1685, ppu: 8.33, left: 707, right: 1230, top: 1393, bottom: 1822, bar: [1251, 1287, 1405, 1811], zeroTick: 1810, max: 3.57, ticks: halfTicks35, u1: [956.5, 1837], ex: [1327, 1607], title: [968, 1330] },
  { gene: "HBB", cells: hbbCells, patches: hbbPatches, ox: 1456, oy: 1685, ppu: 8.33, left: 1350, right: 1837, top: 1393, bottom: 1822, bar: [1860, 1894, 1405, 1811], zeroTick: 1810, max: 3.82, ticks: halfTicks35, u1: [1564, 1837], ex: [1935, 1607], title: [1574, 1330] },
  { gene: "CXCL9", cells: cxclCells, patches: cxclPatches, ox: 204.5, oy: 2247, ppu: 8.33, left: 41, right: 587, top: 1955, bottom: 2384, bar: [608, 643.6, 1966, 2372], zeroTick: 2372, max: 3.03, ticks: halfTicks3, u1: [313, 2398], u2: [50, 2169], ex: [684, 2170], title: [304, 1918] },
  { gene: "CP", cells: cpCells, patches: cpPatches, ox: 847.3, oy: 2246.3, ppu: 8.33, left: 706.5, right: 1229, top: 1955, bottom: 2384, bar: [1251, 1286.5, 1966, 2372], zeroTick: 2372, max: 4.39, ticks: halfTicks4, u1: [956, 2398], ex: [1327, 2170], title: [968, 1918] },
  { gene: "ALOX5", cells: aloxCells, patches: aloxPatches, ox: 1462.5, oy: 2246, ppu: 8.36, left: 1349, right: 1852, top: 1955, bottom: 2384, bar: [1874.5, 1910, 1966, 2372], zeroTick: 2372, max: 5.12, ticks: unitTicks5, u1: [1572, 2398], ex: [1939, 2169], title: [1580, 1918] }
];

genePanels.forEach(p => {
  const g = svg.append("g");
  const { x, y } = drawFrame(g, Object.assign({ zero: 2 }, p));
  const color = d3.scaleSequential(t => d3.interpolateViridis(1 - t)).domain([0, p.max]).clamp(true);

  clusterShapes.forEach(s => blob(g, s.slice(1).filter(Boolean), "#fde725", x, y));
  g.selectAll(".stray").data(strayCells).enter().append("circle").attr("class", "stray")
    .attr("cx", d => x(d[0])).attr("cy", d => y(d[1])).attr("r", 1.7).attr("fill", "#fde725");
  p.patches.forEach((q, i) => {
    const id = "speck" + p.gene + i;
    specklePattern(id, q[0], q[2], color);
    blob(g, [q[1]], "url(#" + id + ")", x, y, q[2]);
  });
  g.selectAll(".cell").data(p.cells).enter().append("circle").attr("class", "cell")
    .attr("cx", d => x(d[0])).attr("cy", d => y(d[1])).attr("r", 2.3).attr("fill", d => color(d[2]));

  // colorbar
  const [bx0, bx1, by0, by1] = p.bar;
  g.append("rect").attr("x", bx0).attr("y", by0).attr("width", bx1 - bx0).attr("height", by1 - by0)
    .attr("fill", "url(#viridisBar)").attr("stroke", "#8a8a8a").attr("stroke-width", 1.6);
  const barY = d3.scaleLinear().domain([0, p.max]).range([p.zeroTick, by0]);
  const axis = g.append("g").attr("transform", "translate(" + bx1 + ",0)")
    .call(d3.axisRight(barY).tickValues(p.ticks).tickSize(0).tickPadding(5).tickFormat(d => d));
  axis.select(".domain").remove();
  axis.selectAll("text").attr("class", "lab").style("font-size", "15px");

  g.append("text").attr("class", "lab").attr("x", p.u1[0]).attr("y", p.u1[1]).attr("dy", "0.35em").attr("text-anchor", "middle").text("UMAP1");
  if (p.u2) {
    g.append("text").attr("class", "lab").attr("transform", "translate(" + p.u2[0] + "," + p.u2[1] + ") rotate(-90)")
      .attr("dy", "0.35em").attr("text-anchor", "middle").text("UMAP2");
  }
  g.append("text").attr("class", "lab").attr("transform", "translate(" + p.ex[0] + "," + p.ex[1] + ") rotate(-90)")
    .attr("dy", "0.35em").attr("text-anchor", "middle").text("Expression");
  g.append("text").attr("class", "serif").attr("x", p.title[0]).attr("y", p.title[1])
    .attr("text-anchor", "middle").style("font-size", "63px").text(p.gene);
});
</script>
</body>
</html>
